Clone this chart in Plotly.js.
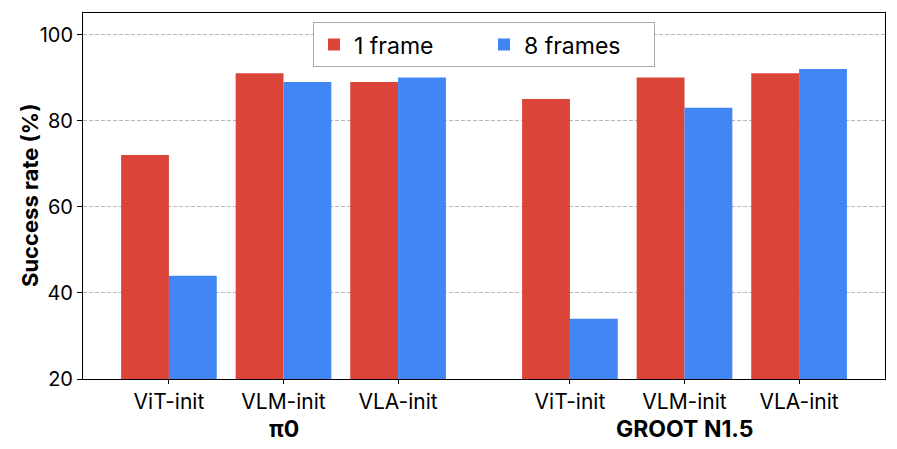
<!DOCTYPE html>
<html>
<head>
<meta charset="utf-8">
<script src="https://cdn.plot.ly/plotly-3.0.1.min.js"></script>
<style>
  body { margin: 0; background: #fff; }
  #chart { width: 897px; height: 449px; }
</style>
</head>
<body>
<div id="chart"></div>
<script>
  var groups = ['π0', 'GROOT N1.5'];
  var categories = ['ViT-init', 'VLM-init', 'VLA-init'];
  // success rates per group, in category order
  var oneFrame = [[72, 91, 89], [85, 90, 91]];
  var eightFrames = [[44, 89, 90], [34, 83, 92]];

  var xs = [], labels = [], y1 = [], y8 = [];
  groups.forEach(function(g, gi) {
    categories.forEach(function(c, ci) {
      xs.push(gi * 3.5 + ci);
      labels.push(c);
      y1.push(oneFrame[gi][ci]);
      y8.push(eightFrames[gi][ci]);
    });
  });

  var data = [{
    x: xs, y: y1, name: '1 frame', type: 'bar',
    marker: { color: '#db4439' }
  }, {
    x: xs, y: y8, name: '8 frames', type: 'bar',
    marker: { color: '#4285f4' }
  }];

  var notes = groups.map(function(g, gi) {
    return {
      x: gi * 3.5 + 1, y: 0, xref: 'x', yref: 'paper',
      yshift: -50, yanchor: 'middle', showarrow: false,
      text: '<b>' + g + '</b>', font: { size: 23, color: '#000' }
    };
  });
  // y title as annotation so it can sit where the reference has it
  notes.push({
    x: 0, y: 0.5, xref: 'paper', yref: 'paper', xshift: -53,
    xanchor: 'center', yanchor: 'middle', showarrow: false, textangle: -90,
    text: '<b>Success rate (%)</b>', font: { size: 22, color: '#000' }
  });

  var layout = {
    width: 897, height: 449,
    margin: { l: 83, r: 12, t: 13, b: 70 },
    font: { family: 'Inter, "Liberation Sans", sans-serif', color: '#000' },
    barmode: 'group',
    bargap: 0.165,
    bargroupgap: 0,
    paper_bgcolor: '#fff', plot_bgcolor: '#fff',
    xaxis: {
      range: [-0.75, 6.25],
      tickvals: xs, ticktext: labels,
      tickfont: { size: 21 },
      ticks: 'outside', ticklen: 4, tickcolor: '#000',
      showline: true, linecolor: '#000', linewidth: 1, mirror: true,
      showgrid: false, zeroline: false
    },
    yaxis: {
      range: [20, 105],
      tickvals: [20, 40, 60, 80, 100],
      tickfont: { size: 20 },
      ticks: 'outside', ticklen: 5, tickcolor: '#000',
      showline: true, linecolor: '#000', linewidth: 1, mirror: true,
      showgrid: true, gridcolor: '#b8b8b8', griddash: '4px,2px', gridwidth: 1,
      zeroline: false
    },
    legend: {
      orientation: 'h', x: 0.5, xanchor: 'center', y: 0.975, yanchor: 'top',
      bgcolor: '#fff', bordercolor: '#aaa', borderwidth: 1,
      font: { size: 23 }, itemwidth: 30, entrywidth: 125, traceorder: 'normal'
    },
    annotations: notes,
    showlegend: true
  };

  Plotly.newPlot('chart', data, layout, { displayModeBar: false, staticPlot: true });
</script>
</body>
</html>
